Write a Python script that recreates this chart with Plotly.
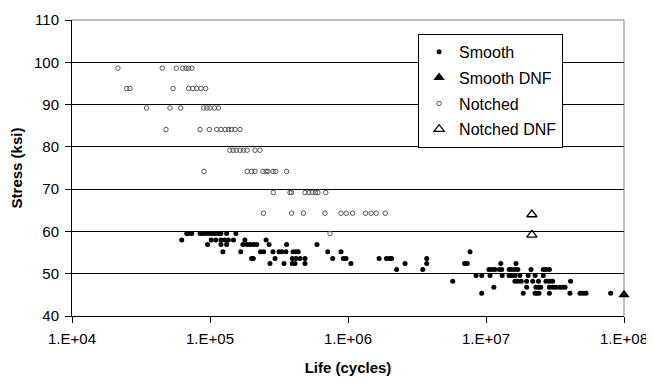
import plotly.graph_objects as go

# ---- data ----
smooth_life = [
    6.78e4, 7.0e4, 7.37e4, 8.47e4, 8.9e4, 9.4e4, 1.0e5, 1.05e5, 1.1e5, 1.15e5, 1.2e5, 1.32e5, 1.54e5,
    6.24e4, 1.02e5, 1.1e5, 1.2e5, 1.28e5, 1.36e5, 1.48e5, 1.79e5, 2.55e5,
    9.6e4, 1.2e5, 1.32e5, 1.73e5, 1.85e5, 1.95e5, 2.06e5, 2.18e5, 2.68e5, 3.59e5, 5.96e5,
    1.24e5, 1.67e5, 2.32e5, 2.45e5, 2.86e5, 3.16e5, 3.31e5, 3.55e5, 4.0e5, 4.2e5, 4.36e5, 7.13e5, 8.9e5, 7.66e6,
    2.0e5, 2.06e5, 2.96e5, 3.95e5, 4.2e5, 4.5e5, 4.88e5, 7.75e5, 9.25e5, 9.68e5, 1.68e6, 1.9e6, 2.0e6, 2.07e6, 3.72e6,
    2.72e5, 3.44e5, 3.95e5, 4.13e5, 4.88e5, 1.05e6, 2.59e6, 3.72e6, 7.0e6, 7.32e6, 1.28e7, 1.65e7,
    2.25e6, 3.48e6, 1.05e7, 1.1e7, 1.16e7, 1.25e7, 1.3e7, 1.47e7, 1.54e7, 1.62e7, 1.7e7, 2.12e7, 2.6e7, 2.72e7, 2.88e7,
    8.47e6, 9.31e6, 1.07e7, 1.31e7, 1.47e7, 1.54e7, 1.62e7, 1.76e7, 2.02e7, 2.27e7, 2.6e7,
    5.74e6, 1.62e7, 1.7e7, 1.8e7, 1.97e7, 2.18e7, 2.4e7, 2.72e7, 2.88e7, 3.04e7, 4.1e7,
    1.14e7, 1.97e7, 2.3e7, 2.4e7, 2.49e7, 2.88e7, 3.05e7, 3.2e7, 3.4e7, 3.56e7, 3.74e7,
    9.31e6, 1.86e7, 2.27e7, 2.34e7, 2.42e7, 2.88e7, 4.06e7, 4.8e7, 5.05e7, 5.31e7, 8.0e7,
]
smooth_stress = (
    [59.5] * 13 + [58.0] * 9 + [56.9] * 11 + [55.2] * 14 + [53.6] * 15 + [52.4] * 12
    + [51.0] * 15 + [49.6] * 11 + [48.2] * 11 + [46.8] * 11 + [45.4] * 11
)

smooth_dnf_life = [1.0e8]
smooth_dnf_stress = [45.0]

notched_life = [
    2.15e4, 4.51e4, 5.7e4, 6.35e4, 6.7e4, 7.0e4, 7.4e4,
    2.49e4, 2.63e4, 5.4e4, 7.0e4, 7.5e4, 8.0e4, 8.6e4, 9.3e4,
    3.47e4, 5.13e4, 6.14e4, 9.0e4, 9.5e4, 1.0e5, 1.08e5, 1.15e5,
    4.8e4, 8.47e4, 9.89e4, 1.12e5, 1.2e5, 1.29e5, 1.36e5, 1.43e5, 1.52e5, 1.65e5,
    1.39e5, 1.47e5, 1.55e5, 1.65e5, 1.75e5, 1.86e5, 2.12e5, 2.3e5,
    9.05e4, 1.86e5, 2.0e5, 2.12e5, 2.42e5, 2.55e5, 2.63e5, 2.86e5, 3.0e5, 3.59e5,
    2.87e5, 3.8e5, 3.9e5, 4.88e5, 5.2e5, 5.5e5, 5.8e5, 6.05e5, 6.9e5,
    2.44e5, 3.9e5, 4.75e5, 6.81e5, 8.9e5, 9.7e5, 1.08e6, 1.34e6, 1.47e6, 1.6e6, 1.86e6,
    7.41e5,
]
notched_stress = (
    [98.6] * 7 + [93.8] * 8 + [89.2] * 8 + [84.1] * 10 + [79.2] * 8
    + [74.2] * 10 + [69.2] * 9 + [64.3] * 11 + [59.5] * 1
)

notched_dnf_life = [2.15e7, 2.15e7]
notched_dnf_stress = [64.0, 59.2]

x_tickvals = [1e4, 1e5, 1e6, 1e7, 1e8]
x_ticktext = ["1.E+04", "1.E+05", "1.E+06", "1.E+07", "1.E+08"]
y_tickvals = [40, 50, 60, 70, 80, 90, 100, 110]

FONT = "Liberation Sans, Arial, sans-serif"

fig = go.Figure()
fig.add_trace(go.Scatter(
    x=smooth_life, y=smooth_stress, mode="markers", name="Smooth", legendgroup="a",
    marker=dict(symbol="circle", size=5, color="black", line=dict(width=0)),
))
fig.add_trace(go.Scatter(
    x=smooth_dnf_life, y=smooth_dnf_stress, mode="markers", name="Smooth DNF", legendgroup="b",
    marker=dict(symbol="triangle-up", size=10, color="black", line=dict(width=0)),
    cliponaxis=False,
))
fig.add_trace(go.Scatter(
    x=notched_life, y=notched_stress, mode="markers", name="Notched", legendgroup="c",
    marker=dict(symbol="circle-open", size=4.5, color="#555555", line=dict(width=1)),
))
fig.add_trace(go.Scatter(
    x=notched_dnf_life, y=notched_dnf_stress, mode="markers", name="Notched DNF", legendgroup="d",
    marker=dict(symbol="triangle-up-open", size=9, color="black", line=dict(width=1.3)),
))

fig.update_layout(
    width=654, height=385,
    margin=dict(l=64, r=38, t=12, b=77, autoexpand=False),
    paper_bgcolor="white", plot_bgcolor="white",
    font=dict(family=FONT, size=15, color="black"),
    showlegend=True,
    legend=dict(
        x=0.627, y=0.953, xanchor="left", yanchor="top",
        bgcolor="white", bordercolor="black", borderwidth=1,
        font=dict(family=FONT, size=16, color="black"),
        itemwidth=30, traceorder="grouped", tracegroupgap=2,
    ),
    xaxis=dict(
        type="log", range=[4, 8], tickvals=x_tickvals, ticktext=x_ticktext,
        showline=True, linecolor="black", linewidth=1,
        ticks="outside", ticklen=6, tickcolor="black",
        showgrid=False, zeroline=False, automargin=False, ticklabelstandoff=3,
        title=dict(text="<b>Life (cycles)</b>", font=dict(family=FONT, size=15), standoff=16),
    ),
    yaxis=dict(
        range=[40, 110], tickvals=y_tickvals,
        showline=True, linecolor="black", linewidth=1,
        ticks="outside", ticklen=6, tickcolor="black",
        showgrid=True, gridcolor="black", gridwidth=1,
        zeroline=False, automargin=False, ticklabelstandoff=3,
        title=dict(text="<b>Stress (ksi)</b>", font=dict(family=FONT, size=15), standoff=12),
    ),
    shapes=[
        dict(type="line", xref="paper", yref="paper", x0=0, x1=1, y0=1, y1=1,
             line=dict(color="#808080", width=1), layer="above"),
        dict(type="line", xref="paper", yref="paper", x0=1, x1=1, y0=0, y1=1,
             line=dict(color="#808080", width=1), layer="below"),
    ],
)

fig.write_html("out.html")
